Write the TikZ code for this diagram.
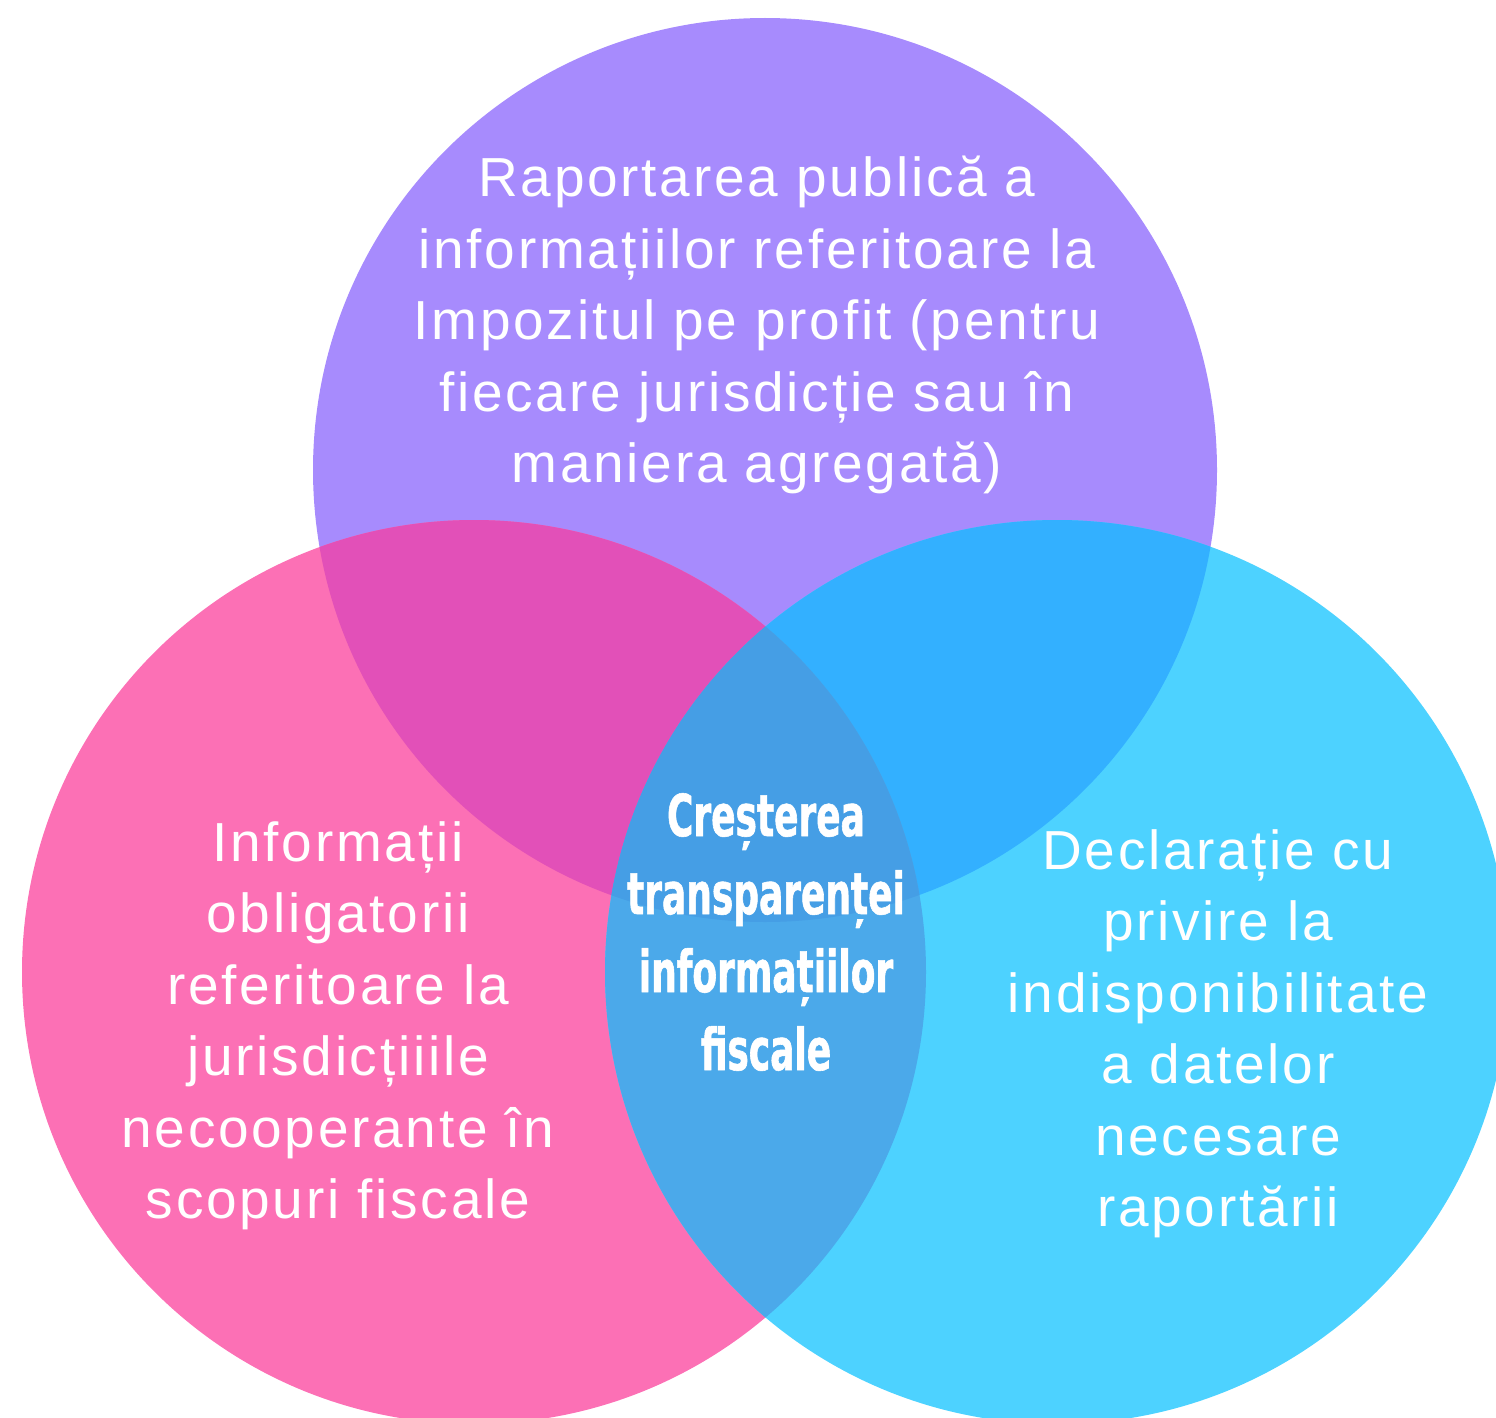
\documentclass[tikz,border=0pt]{standalone}
\usepackage{fontspec}
\setmainfont{Liberation Sans}[LetterSpace=5]
\newfontfamily\condfont{DejaVu Sans}[FakeStretch=0.62,FakeBold=1]
\definecolor{cpurple}{HTML}{A78BFD}
\definecolor{cpink}{HTML}{FC70B5}
\definecolor{ccyan}{HTML}{4DD2FF}
\definecolor{cpp}{HTML}{E250B8}
\definecolor{cpc}{HTML}{33B0FF}
\definecolor{ckc}{HTML}{4BA9EA}
\definecolor{call}{HTML}{459EE5}
\begin{document}
\begin{tikzpicture}[x=1pt,y=-1pt,
  txt/.style={text=white, align=center, inner sep=0pt, font=\fontsize{55}{71.5}\selectfont},
  mid/.style={text=white, align=center, inner sep=0pt, font=\condfont\bfseries\fontsize{58}{78}\selectfont}]
\useasboundingbox (0,0) rectangle (1496,1418);
\coordinate (cP) at (765,470);
\coordinate (cL) at (474,972);
\coordinate (cR) at (1057,972);
\def\rad{452}
\fill[cpurple] (cP) circle (\rad);
\fill[cpink] (cL) circle (\rad);
\fill[ccyan] (cR) circle (\rad);
\begin{scope}
  \clip (cL) circle (\rad);
  \fill[cpp] (cP) circle (\rad);
\end{scope}
\begin{scope}
  \clip (cR) circle (\rad);
  \fill[cpc] (cP) circle (\rad);
\end{scope}
\begin{scope}
  \clip (cL) circle (\rad);
  \fill[ckc] (cR) circle (\rad);
  \clip (cP) circle (\rad);
  \fill[call] (cR) circle (\rad);
\end{scope}
\node[txt] (top) at (757,325) {Raportarea publică a\\informațiilor referitoare la\\Impozitul pe profit (pentru\\fiecare jurisdicție sau în\\maniera agregată)};
\node[txt] (left) at (338,1026) {Informații\\obligatorii\\referitoare la\\jurisdicțiiile\\necooperante în\\scopuri fiscale};
\node[txt] (right) at (1218,1034) {Declarație cu\\privire la\\indisponibilitate\\a datelor\\necesare\\raportării};
\node[mid] (center) at (766,932) {Creșterea\\transparenței\\informațiilor\\fiscale};
\end{tikzpicture}
\end{document}
